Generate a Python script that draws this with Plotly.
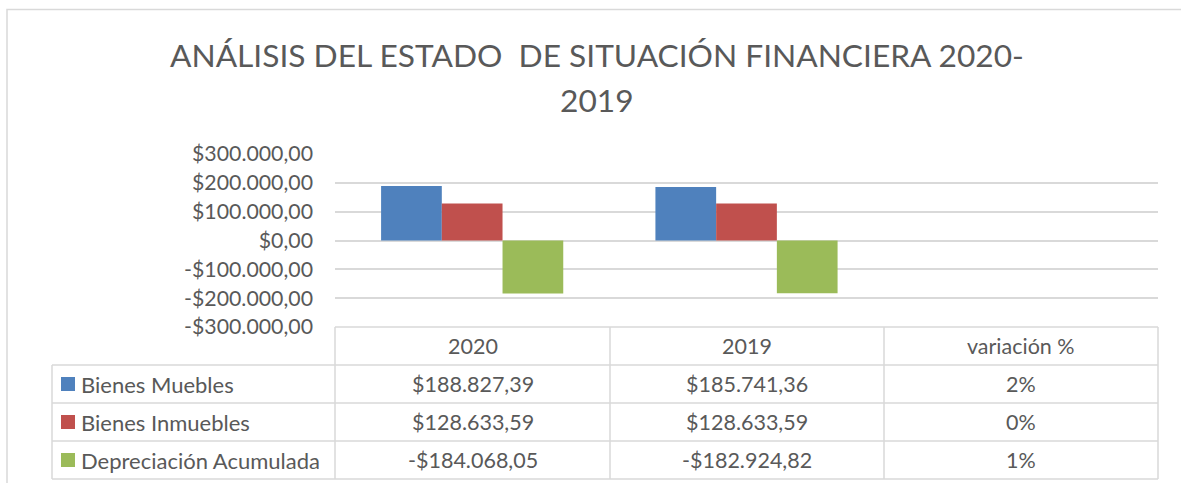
import plotly.graph_objects as go

# ---------------- data ----------------
categories = ["2020", "2019", "variación %"]
series_names = ["Bienes Muebles", "Bienes Inmuebles", "Depreciación Acumulada"]
values_2020 = [188827.39, 128633.59, -184068.05]
values_2019 = [185741.36, 128633.59, -182924.82]
variacion_pct = [2, 0, 1]
colors = ["#4F81BD", "#C0504D", "#9BBB59"]
y_tick_vals = [300000, 200000, 100000, 0, -100000, -200000, -300000]
title_line1 = "ANÁLISIS DEL ESTADO  DE SITUACIÓN FINANCIERA 2020-"
title_line2 = "2019"

W, H = 1181, 483
FONT = "Lato"
TXT = "#595959"
GRID = "#D9D9D9"


def X(px):
    return px / W


def Y(py):
    return 1 - py / H


def money(v):
    s = f"{abs(v):,.2f}".replace(",", "X").replace(".", ",").replace("X", ".")
    return ("-$" if v < 0 else "$") + s


fig = go.Figure()
for i, name in enumerate(series_names):
    yvals = [values_2020[i], values_2019[i], variacion_pct[i] / 100]
    fig.add_trace(go.Bar(
        x=categories, y=yvals, name=name,
        marker=dict(color=colors[i], line=dict(width=0)),
        showlegend=False,
    ))

# plot area geometry (px)
px_left, px_right = 335, 1158
py_top, py_bot = 154, 327

fig.update_layout(
    width=W, height=H, autosize=False,
    margin=dict(l=0, r=0, t=0, b=0, pad=0),
    paper_bgcolor="white", plot_bgcolor="white",
    barmode="group", bargap=0.336, bargroupgap=0,
    font=dict(family=FONT, color=TXT),
    xaxis=dict(domain=[X(px_left), X(px_right)], showticklabels=False, automargin=False,
               showgrid=False, zeroline=False, showline=False, fixedrange=True),
    yaxis=dict(domain=[Y(py_bot), Y(py_top)], range=[-300000, 300000], automargin=False,
               tickvals=y_tick_vals, ticktext=[money(v) for v in y_tick_vals],
               tickfont=dict(family=FONT, size=21.3, color=TXT),
               ticklabelstandoff=21,
               showgrid=True, gridcolor=GRID, gridwidth=1.5,
               zeroline=True, zerolinecolor=GRID, zerolinewidth=1.5,
               showline=False, ticks="", fixedrange=True),
)

shapes = []
ann = []

# outer chart border
shapes.append(dict(type="rect", xref="paper", yref="paper",
                   x0=X(7), x1=X(1200), y0=Y(9.5), y1=Y(520),
                   line=dict(color=GRID, width=1.5), fillcolor="rgba(0,0,0,0)"))

# title
title_font = dict(family=FONT, size=31.7, color=TXT, weight=400)
ann.append(dict(text=title_line1, x=X(597), y=Y(55), xref="paper", yref="paper",
                showarrow=False, xanchor="center", yanchor="middle", font=title_font))
ann.append(dict(text=title_line2, x=X(597), y=Y(100), xref="paper", yref="paper",
                showarrow=False, xanchor="center", yanchor="middle", font=title_font))

# data table
col_x = [335, 610, 884, 1158]
row_y = [327, 365, 403, 441, 479]
tbl_left = 52
line = dict(color=GRID, width=1.5)
shapes.append(dict(type="line", xref="paper", yref="paper", x0=X(col_x[0]), x1=X(col_x[-1]),
                   y0=Y(row_y[0]), y1=Y(row_y[0]), line=line))
for ry in row_y[1:]:
    shapes.append(dict(type="line", xref="paper", yref="paper", x0=X(tbl_left), x1=X(col_x[-1]),
                       y0=Y(ry), y1=Y(ry), line=line))
for cx in col_x:
    shapes.append(dict(type="line", xref="paper", yref="paper", x0=X(cx), x1=X(cx),
                       y0=Y(row_y[0]), y1=Y(row_y[-1]), line=line))
shapes.append(dict(type="line", xref="paper", yref="paper", x0=X(tbl_left), x1=X(tbl_left),
                   y0=Y(row_y[1]), y1=Y(row_y[-1]), line=line))

cell_font = dict(family=FONT, size=21.5, color=TXT)
label_font = dict(family=FONT, size=22, color=TXT)
for j, cat in enumerate(categories):
    cx = (col_x[j] + col_x[j + 1]) / 2
    cy = (row_y[0] + row_y[1]) / 2
    ann.append(dict(text=cat, x=X(cx), y=Y(cy), xref="paper", yref="paper",
                    showarrow=False, xanchor="center", yanchor="middle", font=cell_font))

for i, name in enumerate(series_names):
    cy = (row_y[i + 1] + row_y[i + 2]) / 2
    shapes.append(dict(type="rect", xref="paper", yref="paper",
                       x0=X(61), x1=X(75), y0=Y(cy - 7), y1=Y(cy + 7),
                       fillcolor=colors[i], line=dict(width=0)))
    ann.append(dict(text=name, x=X(79), y=Y(cy), xref="paper", yref="paper",
                    showarrow=False, xanchor="left", yanchor="middle", font=label_font))
    row_vals = [money(values_2020[i]), money(values_2019[i]), f"{variacion_pct[i]}%"]
    for j, txt in enumerate(row_vals):
        cx = (col_x[j] + col_x[j + 1]) / 2
        ann.append(dict(text=txt, x=X(cx), y=Y(cy), xref="paper", yref="paper",
                        showarrow=False, xanchor="center", yanchor="middle", font=cell_font))

fig.update_layout(shapes=shapes, annotations=ann)
fig.write_html("out.html", config={"displayModeBar": False},
               post_script="document.body.style.margin='0px';document.body.style.overflow='hidden';")
